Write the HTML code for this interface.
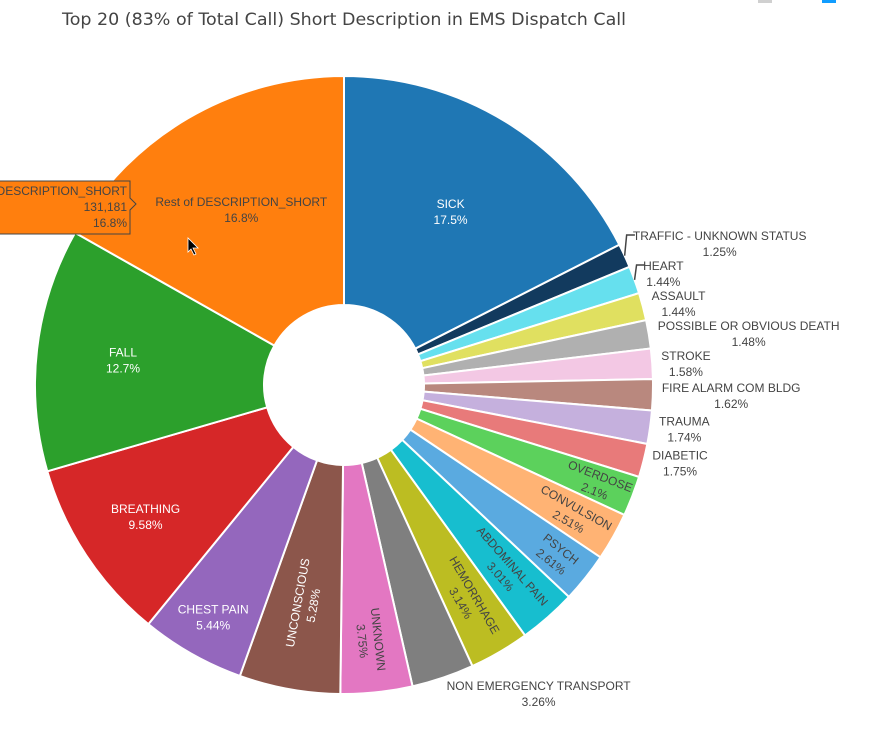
<!DOCTYPE html>
<html><head><meta charset="utf-8">
<style>
html,body{margin:0;padding:0;background:#fff;}
svg{display:block;font-family:"Liberation Sans","DejaVu Sans",sans-serif;}
</style></head>
<body>
<svg id="chart" width="894" height="732" viewBox="0 0 894 732">
<rect x="0" y="0" width="894" height="732" fill="#fff"/>
<rect x="758" y="0" width="14" height="3" fill="#d0d0d0"/>
<rect x="822" y="0" width="14" height="3" fill="#119dff"/>
<text x="62" y="25" font-size="17" fill="#444" textLength="564" lengthAdjust="spacingAndGlyphs" style="font-family:'DejaVu Sans',sans-serif">Top 20 (83% of Total Call) Short Description in EMS Dispatch Call</text>
<g id="slices"></g>
<g id="labels"></g>
<g>
<path d="M-2,181 L130,181 L130,198 L136,204 L130,210 L130,234 L-2,234 Z" fill="#ff7f0e" stroke="#444" stroke-width="1"/>
<text x="127" y="195" font-size="12" fill="#444" text-anchor="end">DESCRIPTION_SHORT</text>
<text x="127" y="211" font-size="12" fill="#444" text-anchor="end">131,181</text>
<text x="127" y="227" font-size="12" fill="#444" text-anchor="end">16.8%</text>
</g>
<path d="M188,238 L188,252 L191,249 L194,255 L196,254 L193,248 L198,248 Z" fill="#000" stroke="#fff" stroke-width="0.8"/>
</svg>
<script>
const categories = ["SICK","TRAFFIC - UNKNOWN STATUS","HEART","ASSAULT","POSSIBLE OR OBVIOUS DEATH","STROKE","FIRE ALARM COM BLDG","TRAUMA","DIABETIC","OVERDOSE","CONVULSION","PSYCH","ABDOMINAL PAIN","HEMORRHAGE","NON EMERGENCY TRANSPORT","UNKNOWN","UNCONSCIOUS","CHEST PAIN","BREATHING","FALL","Rest of DESCRIPTION_SHORT"];
const percents = [17.5,1.25,1.44,1.44,1.48,1.58,1.62,1.74,1.75,2.1,2.51,2.61,3.01,3.14,3.26,3.75,5.28,5.44,9.58,12.7,16.8];
const pctLabels = ["17.5%","1.25%","1.44%","1.44%","1.48%","1.58%","1.62%","1.74%","1.75%","2.1%","2.51%","2.61%","3.01%","3.14%","3.26%","3.75%","5.28%","5.44%","9.58%","12.7%","16.8%"];
const colors = ["#1f77b4","#123a5e","#66e0ee","#e0e060","#b0b0b0","#f3c8e4","#b9887e","#c5b0dd","#e87a7a","#5cd15c","#ffb374","#5aaae0","#17becf","#bcbd22","#7f7f7f","#e377c2","#8c564b","#9467bd","#d62728","#2ca02c","#ff7f0e"];
const textMode = ["h","o","o","o","o","o","o","o","o","r","r","r","r","r","o","r","r","h","h","h","h"];
const textRadius = [0.66,0,0,0,0,0,0,0,0,0.88,0.85,0.88,0.8,0.8,0,0.83,0.72,0.86,0.77,0.72,0.66];
const textColor = ["#fff","#444","#444","#444","#444","#444","#444","#444","#444","#444","#444","#444","#444","#444","#444","#444","#fff","#fff","#fff","#fff","#444"];

const NS="http://www.w3.org/2000/svg";
const cx=344, cy=385, R=309, r0=80;
const total = percents.reduce((a,b)=>a+b,0);
function angleOf(v){ return v/total*2*Math.PI; }
function pt(a,r){ return [cx+r*Math.sin(a), cy-r*Math.cos(a)]; }
const gS=document.getElementById('slices'), gL=document.getElementById('labels');
let acc=0;
const outs=[];
percents.forEach((v,i)=>{
  const a0=angleOf(acc), a1=angleOf(acc+v); acc+=v;
  const large=(a1-a0)>Math.PI?1:0;
  const p0=pt(a0,R),p1=pt(a1,R),q1=pt(a1,r0),q0=pt(a0,r0);
  const path=document.createElementNS(NS,'path');
  path.setAttribute('d',`M${p0[0]},${p0[1]} A${R},${R} 0 ${large} 1 ${p1[0]},${p1[1]} L${q1[0]},${q1[1]} A${r0},${r0} 0 ${large} 0 ${q0[0]},${q0[1]} Z`);
  path.setAttribute('fill',colors[i]);
  path.setAttribute('stroke','#fff');
  path.setAttribute('stroke-width','2');
  
  
  gS.appendChild(path);
  const am=(a0+a1)/2;
  if(textMode[i]==='o'){ outs.push({i,am}); return; }
  const c=pt(am,textRadius[i]*R);
  const t=document.createElementNS(NS,'text');
  t.setAttribute('font-size','12');
  t.setAttribute('fill',textColor[i]);
  t.setAttribute('text-anchor','middle');
  
  
  let rot=0;
  if(textMode[i]==='r'){ rot=am*180/Math.PI-90; if(rot>90) rot-=180; }
  t.setAttribute('transform',`translate(${c[0]},${c[1]}) rotate(${rot})`);
  const s1=document.createElementNS(NS,'tspan'); s1.setAttribute('x','0'); s1.setAttribute('y','-3'); s1.textContent=categories[i];
  const s2=document.createElementNS(NS,'tspan'); s2.setAttribute('x','0'); s2.setAttribute('y','13'); s2.textContent=pctLabels[i];
  t.appendChild(s1); t.appendChild(s2); gL.appendChild(t);
});
const rightOuts=outs.filter(o=>o.am<Math.PI*0.85);
rightOuts.forEach(o=>{const p=pt(o.am,R+8); o.x=p[0]; o.y=p[1]; o.ny=p[1];});
for(let k=rightOuts.length-2;k>=0;k--){ if(rightOuts[k].y>rightOuts[k+1].y-30) rightOuts[k].y=rightOuts[k+1].y-30; }
outs.forEach(o=>{
  if(o.y===undefined){const p=pt(o.am,R+8); o.x=p[0]; o.y=p[1]+Math.max(0,-Math.cos(o.am))*8; o.ny=o.y;}
  const i=o.i;
  const lx=o.x+1;
  const t=document.createElementNS(NS,'text');
  t.setAttribute('font-size','12');
  t.setAttribute('fill','#444');
  t.setAttribute('text-anchor','middle');
  
  
  const s1=document.createElementNS(NS,'tspan'); s1.setAttribute('y',o.y-3); s1.textContent=categories[i];
  const s2=document.createElementNS(NS,'tspan'); s2.setAttribute('y',o.y+13); s2.textContent=pctLabels[i];
  t.appendChild(s1); t.appendChild(s2); gL.appendChild(t);
  const w=Math.max(s1.getComputedTextLength(),s2.getComputedTextLength());
  s1.setAttribute('x',lx+w/2); s2.setAttribute('x',lx+w/2);
  if(o.ny-o.y>2){
    const e=pt(o.am,R);
    const ln=document.createElementNS(NS,'path');
    ln.setAttribute('d',`M${e[0]},${e[1]} L${e[0]+2},${o.y-8} L${lx+2},${o.y-8}`);
    ln.setAttribute('stroke','#444'); ln.setAttribute('fill','none'); ln.setAttribute('stroke-width','1.5');
    
    
    gL.appendChild(ln);
  }
});
</script>
</body></html>
